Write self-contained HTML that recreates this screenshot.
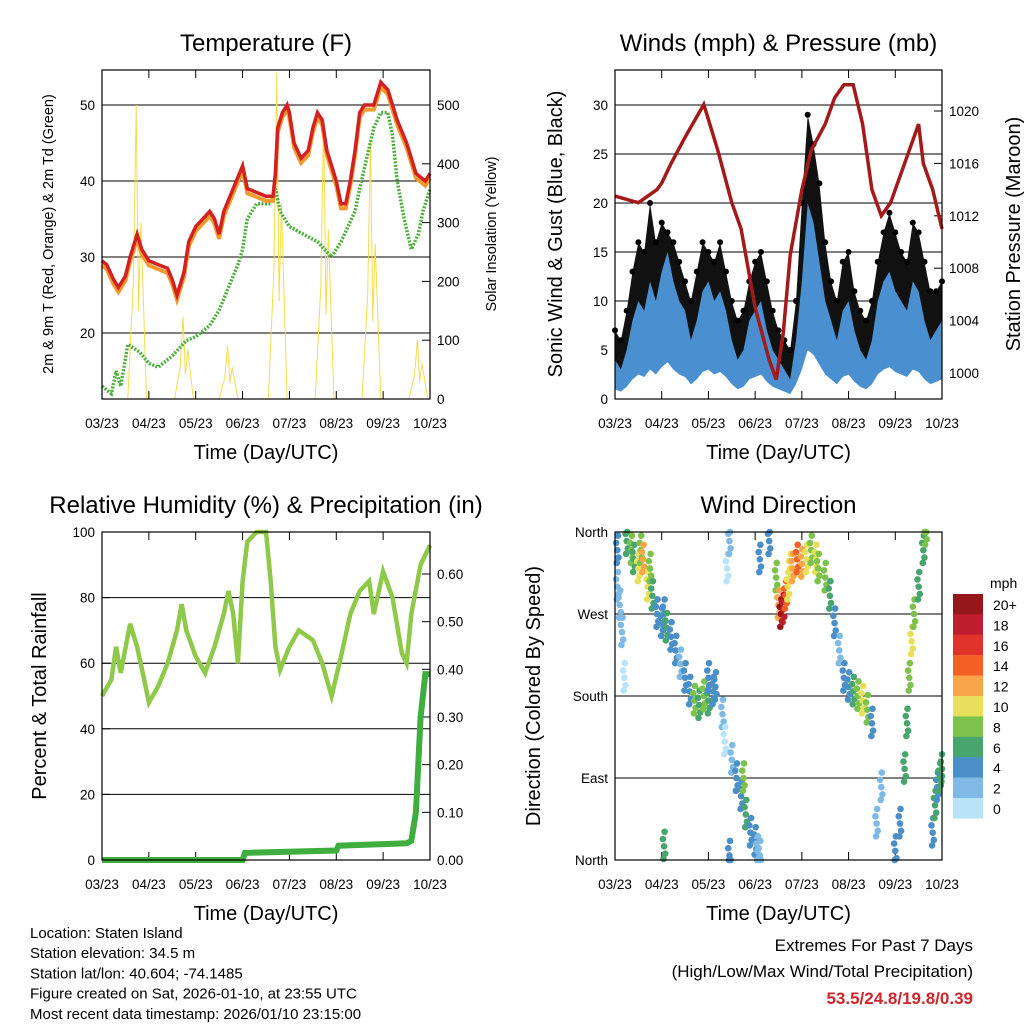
<!DOCTYPE html>
<html><head><meta charset="utf-8"><style>
body{margin:0;background:#fff;}
svg{display:block;font-family:"Liberation Sans",sans-serif;}
</style></head><body>
<svg id="s" width="1024" height="1024" viewBox="0 0 1024 1024"></svg>
<script>
// ---------- data ----------
const dayLabels=["03/23","04/23","05/23","06/23","07/23","08/23","09/23","10/23"];
const tempT=[0,0.1,0.25,0.35,0.5,0.6,0.75,0.85,1.0,1.2,1.4,1.5,1.6,1.75,1.85,2.0,2.15,2.3,2.4,2.5,2.6,2.8,3.0,3.1,3.3,3.5,3.65,3.7,3.75,3.85,3.95,4.0,4.1,4.25,4.4,4.5,4.6,4.7,4.8,4.9,5.0,5.1,5.2,5.3,5.4,5.5,5.6,5.8,5.95,6.1,6.3,6.5,6.6,6.7,6.9,7.0];
const temp2m=[29.5,29,27,26,27.5,30,33,31,29.5,29,28.5,27,25,28,32,34,35,36,35,33,36,39,42,39,38.5,38,38,41,47,49,50,49,45,43,44,47,49,48,44,42,40,37,37,40,44,49,50,50,53,52,48,45,43,41,40,41];
const tdT=[0,0.2,0.3,0.4,0.55,0.8,1.0,1.2,1.5,1.8,2.0,2.3,2.5,2.7,2.9,3.0,3.1,3.3,3.6,3.7,3.8,4.0,4.3,4.6,4.9,5.0,5.1,5.25,5.4,5.5,5.65,5.8,5.95,6.1,6.2,6.3,6.45,6.6,6.75,6.85,7.0];
const dewpt=[13,12,15,13,18.5,17.5,16,15.5,17,19,19.5,21,23,26,29,31,35,37,37,39,36,34,33,32,30,31,32,34,36,39,43,47,49,49,46,40,35,31,33,36,39];
const solarDay=[0.75,1.75,2.7,3.75,4.75,5.75,6.75];
const solarPeak=[500,140,90,555,480,440,100];
const windT=[];for(let i=0;i<57;i++)windT.push(i*0.125);
const windSpd=[4,3,5,8,10,9,12,10, 13,15,12,10,9,6,8,11, 12,10,11,9,6,4,5,8, 9,10,7,5,4,3,2,6, 12,20,18,14,10,8,6,9, 10,7,5,4,6,10,12,13, 11,10,9,12,11,8,6,7,8];
const windGust=[7,6,9,13,16,15,20,16, 18,17,16,14,12,10,13,16, 15,14,16,13,10,8,9,12, 14,15,12,9,7,6,5,10, 20,29,26,22,16,12,10,14, 15,11,9,8,10,14,17,19, 17,15,14,18,17,14,11,11,12];
const presT=[0,0.5,0.9,1.0,1.2,1.5,1.9,2.2,2.5,2.7,2.85,3.0,3.3,3.45,3.6,3.75,4.0,4.2,4.5,4.7,4.9,5.1,5.3,5.5,5.7,5.9,6.2,6.5,6.6,6.8,7.0];
const pressure=[1013.5,1013,1014,1014.5,1016,1018,1020.5,1017,1013,1011,1008,1005,1001,999.5,1003,1009,1014,1017,1019,1021,1022,1022,1019,1014,1012,1013,1016,1019,1016,1014,1011];
const rhT=[0,0.2,0.3,0.4,0.6,0.75,0.9,1.0,1.2,1.4,1.6,1.7,1.8,2.0,2.2,2.4,2.6,2.7,2.8,2.9,3.0,3.1,3.3,3.5,3.6,3.7,3.8,4.0,4.2,4.5,4.7,4.9,5.1,5.3,5.5,5.7,5.8,6.0,6.2,6.4,6.5,6.6,6.8,7.0];
const rh=[50,55,65,57,72,65,55,48,53,60,70,78,70,62,57,65,75,82,75,60,85,97,100,100,85,65,58,65,70,67,60,50,62,75,82,85,75,88,80,63,60,75,90,96];
const rainT=[0,3.0,3.05,5.0,5.05,6.5,6.6,6.7,6.8,6.9,7.0];
const rain=[0,0,0.015,0.02,0.03,0.035,0.04,0.1,0.3,0.39,0.39];
const wdT=[0.05,0.1,0.15,0.2,0.05,0.25,0.35,0.4,0.5,0.55,0.6,0.7,0.75,0.8,0.9,1.0,1.05,1.1,1.2,1.3,1.4,1.5,1.6,1.7,1.8,1.9,2.0,2.1,2.15,2.0,2.3,2.35,2.4,2.45,2.5,2.6,2.7,2.75,2.8,2.9,3.0,3.05,3.1,3.3,3.1,3.45,3.5,3.55,3.6,3.65,3.7,3.75,3.8,3.9,4.0,4.1,4.2,4.3,4.35,4.5,4.6,4.7,4.8,4.9,5.0,5.1,5.2,5.3,5.4,5.5,5.6,5.7,6.0,6.1,6.2,6.25,6.3,6.35,6.4,6.5,6.6,6.65,6.8,6.85,6.9,6.95,7.0,1.05,2.45];
const wdDir=[300,280,250,200,340,350,340,330,320,340,330,300,320,290,270,260,270,255,245,230,215,200,185,175,170,180,175,185,190,200,160,130,320,350,110,90,70,90,50,30,20,10,5,350,330,310,280,270,275,290,300,320,320,330,325,330,340,330,320,310,290,260,230,200,190,185,180,175,165,150,40,80,10,40,100,150,200,240,270,300,340,360,30,60,80,90,100,15,5];
const wdSpd=[3,3,2,1,5,6,8,7,10,8,12,11,9,6,5,4,5,6,4,4,3,4,5,8,7,9,6,4,5,5,2,1,1,2,3,4,5,8,6,4,5,3,3,5,4,9,12,20,18,14,11,10,12,14,12,11,9,10,9,8,7,4,3,4,5,6,9,11,8,5,3,2,5,4,6,7,9,10,8,7,6,8,5,6,5,7,6,7,4];
const cbLabels=["20+","18","16","14","12","10","8","6","4","2","0"];
const cbColors=["#961719","#be1e2d","#e0342b","#f26026","#f9a64a","#e8e05a","#7cc24b","#48a56e","#4b8fc8","#7fb9e6","#b8e3f8"];

// ---------- helpers ----------
const NS="http://www.w3.org/2000/svg";const S=document.getElementById('s');
function mk(tag,at,parent,txt){const e=document.createElementNS(NS,tag);for(const k in at)e.setAttribute(k,at[k]);if(txt!==undefined)e.textContent=txt;(parent||S).appendChild(e);return e;}
function lin(d0,d1,p0,p1){return v=>p0+(v-d0)/(d1-d0)*(p1-p0);}
function poly(xs,ys,fx,fy){return xs.map((t,i)=>fx(t).toFixed(1)+','+fy(ys[i]).toFixed(1)).join(' ');}

function panel(name,x0,x1,y0,y1,title,titleX){
  const g=mk('g',{});
  const t=mk('text',{x:titleX||(x0+x1)/2,y:y0-19,'text-anchor':'middle','font-size':24},g,title);
  
  const fx=lin(0,7,x0,x1);
  dayLabels.forEach((l,i)=>{
    mk('line',{x1:fx(i),x2:fx(i),y1:y1,y2:y1-8,stroke:'#000'},g);
    mk('line',{x1:fx(i),x2:fx(i),y1:y0,y2:y0+8,stroke:'#000'},g);
    const tx=mk('text',{x:fx(i),y:y1+29,'text-anchor':'middle','font-size':13.5},g,l);
    
  });
  const xt=mk('text',{x:(x0+x1)/2,y:y1+60,'text-anchor':'middle','font-size':20},g,'Time (Day/UTC)');
  
  return {g,fx};
}
function yaxis(g,ticks,labels,fy,x0,x1,side,grid){
  ticks.forEach((v,i)=>{
    const y=fy(v);
    if(grid)mk('line',{x1:x0,x2:x1,y1:y,y2:y,stroke:'#000','stroke-width':1},g);
    if(side==='l'){mk('line',{x1:x0,x2:x0+8,y1:y,y2:y,stroke:'#000'},g);
      const t=mk('text',{x:x0-7,y:y+5,'text-anchor':'end','font-size':13.5},g,labels[i]);}
    else{mk('line',{x1:x1,x2:x1-8,y1:y,y2:y,stroke:'#000'},g);
      const t=mk('text',{x:x1+7,y:y+5,'text-anchor':'start','font-size':13.5},g,labels[i]);}
  });
}
function ytitle(g,x,y,txt,size,name){const t=mk('text',{x:x,y:y,'text-anchor':'middle','font-size':size,transform:`rotate(-90 ${x} ${y})`},g,txt);}
function frame(g,x0,x1,y0,y1){const r=mk('rect',{x:x0,y:y0,width:x1-x0,height:y1-y0,fill:'none',stroke:'#000','stroke-width':1.2},g);}

// ---------- Panel 1: temperature ----------
(function(){
  const x0=102,x1=430,y0=70,y1=399;
  const {g,fx}=panel('temperature-panel',x0,x1,y0,y1,'Temperature (F)');
  const fy=lin(20,50,333,105), fs=lin(0,500,399,105);
  yaxis(g,[20,30,40,50],['20','30','40','50'],fy,x0,x1,'l',true);
  yaxis(g,[0,100,200,300,400,500],['0','100','200','300','400','500'],fs,x0,x1,'r',false);
  solarDay.forEach((d,i)=>{
    const p=mk('polyline',{points:`${fx(d-0.2)},${y1} ${fx(d-0.08)},${fs(solarPeak[i]*0.4)} ${fx(d-0.02)},${fs(solarPeak[i])} ${fx(d+0.03)},${fs(solarPeak[i]*0.3)} ${fx(d+0.08)},${fs(solarPeak[i]*0.6)} ${fx(d+0.2)},${y1}`,fill:'none',stroke:'#f7dc4a','stroke-width':1},g);
    
  });
  const dp=mk('polyline',{points:poly(tdT,dewpt,fx,fy),fill:'none',stroke:'#4caf3a','stroke-width':3.5,'stroke-dasharray':'2 1.5'},g);
  
  const t9=mk('polyline',{points:poly(tempT,temp2m.map(v=>v-0.6),fx,fy),fill:'none',stroke:'#f39a2c','stroke-width':4},g);
  
  const t2=mk('polyline',{points:poly(tempT,temp2m,fx,fy),fill:'none',stroke:'#d32020','stroke-width':3.5},g);
  
  frame(g,x0,x1,y0,y1);
  ytitle(g,53,234,'2m & 9m T (Red, Orange) & 2m Td (Green)',14.5,'y-axis-title');
  ytitle(g,496,234,'Solar Insolation (Yellow)',14.5,'y2-axis-title');
})();

// ---------- Panel 2: winds ----------
(function(){
  const x0=615,x1=942,y0=70,y1=399;
  const {g,fx}=panel('winds-panel',x0,x1,y0,y1,'Winds (mph) & Pressure (mb)');
  const fy=lin(0,30,399,105), fp=lin(1000,1020,373,111);
  yaxis(g,[0,5,10,15,20,25,30],['0','5','10','15','20','25','30'],fy,x0,x1,'l',true);
  yaxis(g,[1000,1004,1008,1012,1016,1020],['1000','1004','1008','1012','1016','1020'],fp,x0,x1,'r',false);
  const top=windT.map((t,i)=>fx(t)+','+fy(windGust[i])).join(' ');
  const bot=windT.slice().reverse().map((t,j)=>{const i=windT.length-1-j;return fx(t)+','+fy(windSpd[i]*0.6);}).join(' ');
  const gb=mk('polygon',{points:top+' '+bot,fill:'#111'},g);
  windT.forEach((t,i)=>{const c=mk('circle',{cx:fx(t),cy:fy(windGust[i]),r:3,fill:'#000'},g);});
  const top2=windT.map((t,i)=>fx(t)+','+fy(windSpd[i])).join(' ');
  const bot2=windT.slice().reverse().map((t,j)=>{const i=windT.length-1-j;return fx(t)+','+fy(windSpd[i]*0.25);}).join(' ');
  const wb=mk('polygon',{points:top2+' '+bot2,fill:'#4a90d0'},g);
  const pl=mk('polyline',{points:poly(presT,pressure,fx,fp),fill:'none',stroke:'#a31a1a','stroke-width':3.5},g);
  
  frame(g,x0,x1,y0,y1);
  ytitle(g,562,234,'Sonic Wind & Gust (Blue, Black)',20,'y-axis-title');
  ytitle(g,1020,234,'Station Pressure (Maroon)',20,'y2-axis-title');
})();

// ---------- Panel 3: RH ----------
(function(){
  const x0=102,x1=430,y0=532,y1=860;
  const {g,fx}=panel('humidity-panel',x0,x1,y0,y1,'Relative Humidity (%) & Precipitation (in)',266);
  const fy=lin(0,100,860,532), fr=lin(0,0.6,860,574);
  yaxis(g,[0,20,40,60,80,100],['0','20','40','60','80','100'],fy,x0,x1,'l',true);
  yaxis(g,[0,0.1,0.2,0.3,0.4,0.5,0.6],['0.00','0.10','0.20','0.30','0.40','0.50','0.60'],fr,x0,x1,'r',false);
  const r=mk('polyline',{points:poly(rhT,rh,fx,fy),fill:'none',stroke:'#8fc94a','stroke-width':4.5},g);
  
  const p=mk('polyline',{points:poly(rainT,rain,fx,fr),fill:'none',stroke:'#3fad3f','stroke-width':6},g);
  
  frame(g,x0,x1,y0,y1);
  ytitle(g,46,696,'Percent & Total Rainfall',20,'y-axis-title');
})();

// ---------- Panel 4: wind direction ----------
(function(){
  const x0=615,x1=942,y0=532,y1=860;
  const {g,fx}=panel('wind-direction-panel',x0,x1,y0,y1,'Wind Direction');
  const fy=lin(0,360,860,532);
  yaxis(g,[0,90,180,270,360],['North','East','South','West','North'],fy,x0,x1,'l',true);
  function col(s){let k=Math.min(10,Math.floor(s/2));return cbColors[10-k];}
  const offs=[[0,0],[-0.025,8],[0.025,-8],[0.012,16],[-0.012,-14]];
  wdT.forEach((t,i)=>{
    offs.forEach(o=>{
      const d=Math.max(0,Math.min(360,wdDir[i]+o[1]));
      const c=mk('circle',{cx:fx(Math.max(0,Math.min(7,t+o[0]))),cy:fy(d),r:3.3,fill:col(wdSpd[i])},g);
      
    });
  });
  frame(g,x0,x1,y0,y1);
  ytitle(g,540,696,'Direction (Colored By Speed)',20,'y-axis-title');
  const cb=mk('g',{},g);
  mk('text',{x:990,y:588,'font-size':14},cb,'mph');
  cbLabels.forEach((l,i)=>{
    mk('rect',{x:953,y:594+i*20.4,width:30,height:20.6,fill:cbColors[i]},cb);
    const t=mk('text',{x:993,y:610+i*20.4,'font-size':14},cb,l);
  });
})();

// ---------- footer ----------
const info=["Location: Staten Island","Station elevation: 34.5 m","Station lat/lon: 40.604; -74.1485","Figure created on Sat, 2026-01-10, at 23:55 UTC","Most recent data timestamp: 2026/01/10 23:15:00"];
info.forEach((l,i)=>{const t=mk('text',{x:30,y:938+i*20.2,'font-size':15},S,l);});
let e1=mk('text',{x:973,y:951,'text-anchor':'end','font-size':17},S,'Extremes For Past 7 Days');
let e2=mk('text',{x:973,y:977,'text-anchor':'end','font-size':17},S,'(High/Low/Max Wind/Total Precipitation)');
let e3=mk('text',{x:973,y:1004,'text-anchor':'end','font-size':17,'font-weight':'bold',fill:'#d0262c'},S,'53.5/24.8/19.8/0.39');
</script>
</body></html>
